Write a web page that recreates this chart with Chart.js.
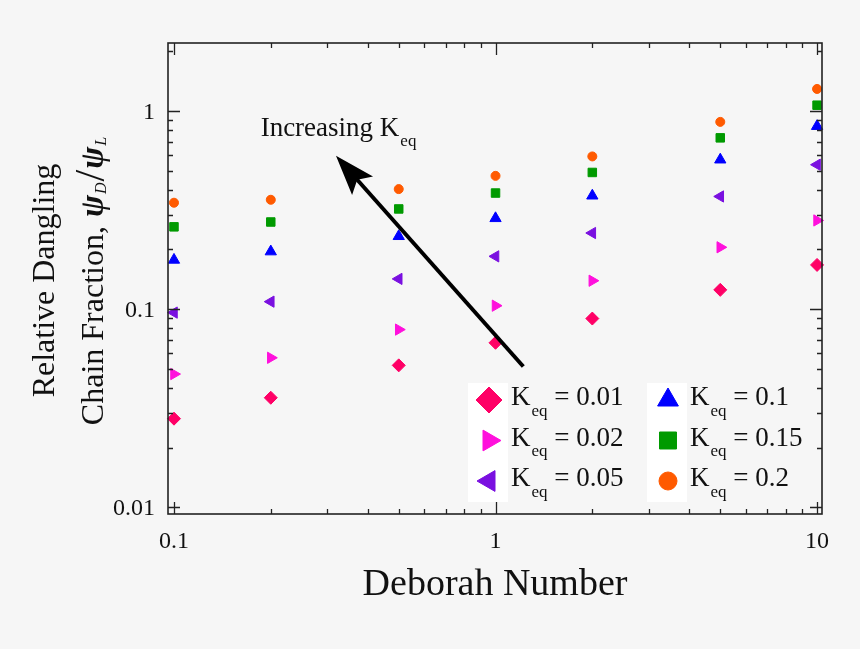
<!DOCTYPE html>
<html>
<head>
<meta charset="utf-8">
<script src="https://cdn.jsdelivr.net/npm/chart.js@4/dist/chart.umd.min.js"></script>
<style>
html, body { margin: 0; padding: 0; background: #f6f6f6; }
canvas { display: block; }
</style>
</head>
<body>
<canvas id="chart" width="860" height="649"></canvas>
<script>
'use strict';

// x: Deborah number, y: relative dangling chain fraction for each K_eq
const deborah = [0.1, 0.2, 0.5, 1, 2, 5, 10];
const keqLabels = ['0.01', '0.02', '0.05', '0.1', '0.15', '0.2'];
const keq001 = [0.028, 0.0357, 0.052, 0.0676, 0.0896, 0.125, 0.167];
const keq002 = [0.047, 0.0568, 0.0788, 0.104, 0.139, 0.205, 0.280];
const keq005 = [0.096, 0.109, 0.142, 0.1845, 0.242, 0.370, 0.535];
const keq01 = [0.177, 0.195, 0.233, 0.287, 0.373, 0.567, 0.837];
const keq015 = [0.26, 0.275, 0.32, 0.385, 0.489, 0.731, 1.068];
const keq02 = [0.344, 0.356, 0.403, 0.470, 0.589, 0.880, 1.29];

const xTickLabels = ['0.1', '1', '10'];
const yTickLabels = ['0.01', '0.1', '1'];

const serif = '"Liberation Serif", "Times New Roman", serif';
const ink = '#111';

const series = [keq001, keq002, keq005, keq01, keq015, keq02];
const colors = ['#ff0066', '#ff10dc', '#7a10e0', '#0000ff', '#009a00', '#ff5a00'];
const styles = ['rectRot', 'triangle', 'triangle', 'triangle', 'rect', 'circle'];
const rotations = [0, 90, -90, 0, 0, 0];
const radii = [6.5, 6.5, 6.5, 6.5, 6, 4.5];
const legendRadii = [13, 12, 12, 12, 12, 9];

// K with subscript eq, then optional tail text
function drawKeq(ctx, x, y, size, tail) {
    ctx.font = size + 'px ' + serif;
    ctx.fillText('K', x, y);
    let w = ctx.measureText('K').width + 1;
    const sub = Math.round(size * 0.64);
    ctx.font = sub + 'px ' + serif;
    ctx.fillText('eq', x + w, y + size * 0.39);
    w += ctx.measureText('eq').width;
    if (tail) {
        ctx.font = size + 'px ' + serif;
        ctx.fillText(tail, x + w, y);
    }
}

const background = {
    id: 'background',
    beforeDraw(chart) {
        const ctx = chart.ctx;
        ctx.save();
        ctx.fillStyle = '#f6f6f6';
        ctx.fillRect(0, 0, chart.width, chart.height);
        ctx.restore();
    }
};

// frame with inward ticks on all four sides, plus decade labels
const frameTicks = {
    id: 'frameTicks',
    afterDraw(chart) {
        const {ctx, chartArea: a, scales: {x, y}} = chart;
        ctx.save();
        ctx.strokeStyle = '#222';
        ctx.lineWidth = 1.6;
        ctx.strokeRect(a.left, a.top, a.right - a.left, a.bottom - a.top);
        ctx.lineWidth = 1.3;
        ctx.beginPath();
        for (let e = -3; e <= 1; e++) {
            for (let m = 1; m <= 9; m++) {
                const v = m * Math.pow(10, e);
                const len = m === 1 ? 12 : 5;
                if (v >= x.min && v <= x.max) {
                    const px = Math.round(x.getPixelForValue(v)) + 0.5;
                    ctx.moveTo(px, a.bottom); ctx.lineTo(px, a.bottom - len);
                    ctx.moveTo(px, a.top); ctx.lineTo(px, a.top + len);
                }
                if (v >= y.min && v <= y.max) {
                    const py = Math.round(y.getPixelForValue(v)) + 0.5;
                    ctx.moveTo(a.left, py); ctx.lineTo(a.left + len, py);
                    ctx.moveTo(a.right, py); ctx.lineTo(a.right - len, py);
                }
            }
        }
        ctx.stroke();

        ctx.fillStyle = ink;
        ctx.font = '24px ' + serif;
        ctx.textBaseline = 'alphabetic';
        ctx.textAlign = 'center';
        xTickLabels.forEach(t => {
            ctx.fillText(t, x.getPixelForValue(+t), a.bottom + 34);
        });
        ctx.textAlign = 'right';
        yTickLabels.forEach(t => {
            ctx.fillText(t, a.left - 13, y.getPixelForValue(+t) + 8);
        });
        ctx.restore();
    }
};

// axis titles
const titles = {
    id: 'titles',
    afterDraw(chart) {
        const {ctx, chartArea: a} = chart;
        ctx.save();
        ctx.fillStyle = ink;
        ctx.textBaseline = 'alphabetic';
        ctx.textAlign = 'center';
        ctx.font = '38px ' + serif;
        ctx.fillText('Deborah Number', (a.left + a.right) / 2, 595);

        const cy = (a.top + a.bottom) / 2 + 2;
        ctx.textAlign = 'left';
        // first line
        ctx.save();
        ctx.translate(54, cy);
        ctx.rotate(-Math.PI / 2);
        ctx.font = '32px ' + serif;
        const w1 = ctx.measureText('Relative Dangling').width;
        ctx.fillText('Relative Dangling', -w1 / 2, 0);
        ctx.restore();
        // second line with psi_D / psi_L
        const parts = [
            {t: 'Chain Fraction, ', f: '32px ' + serif, dy: 0},
            {t: 'ψ', f: 'italic bold 33px ' + serif, dy: 0},
            {t: 'D', f: 'italic 16px ' + serif, dy: 3},
            {t: '/', f: '42px ' + serif, dy: 1},
            {t: 'ψ', f: 'italic bold 33px ' + serif, dy: 0},
            {t: 'L', f: 'italic 16px ' + serif, dy: 3}
        ];
        let total = 0;
        parts.forEach(p => { ctx.font = p.f; p.w = ctx.measureText(p.t).width + 1; total += p.w; });
        ctx.save();
        ctx.translate(103, cy);
        ctx.rotate(-Math.PI / 2);
        let px = -total / 2;
        parts.forEach(p => { ctx.font = p.f; ctx.fillText(p.t, px, p.dy); px += p.w; });
        ctx.restore();
        ctx.restore();
    }
};

// arrow and "Increasing K_eq" note, placed in data coordinates
const arrowTail = [1.22, 0.0513];
const arrowTip = [0.319, 0.593];
const notePos = [0.186, 0.748];
const annotation = {
    id: 'annotation',
    afterDraw(chart) {
        const {ctx, scales: {x, y}} = chart;
        const x0 = x.getPixelForValue(arrowTail[0]), y0 = y.getPixelForValue(arrowTail[1]);
        const x1 = x.getPixelForValue(arrowTip[0]), y1 = y.getPixelForValue(arrowTip[1]);
        const len = Math.hypot(x1 - x0, y1 - y0);
        const ux = (x1 - x0) / len, uy = (y1 - y0) / len;
        const nx = -uy, ny = ux;
        const head = 40, half = 14;
        ctx.save();
        ctx.strokeStyle = '#000';
        ctx.fillStyle = '#000';
        ctx.lineWidth = 4;
        ctx.beginPath();
        ctx.moveTo(x0, y0);
        ctx.lineTo(x1 - ux * 30, y1 - uy * 30);
        ctx.stroke();
        ctx.beginPath();
        ctx.moveTo(x1, y1);
        ctx.lineTo(x1 - ux * head + nx * half, y1 - uy * head + ny * half);
        ctx.lineTo(x1 - ux * (head - 8), y1 - uy * (head - 8));
        ctx.lineTo(x1 - ux * head - nx * half, y1 - uy * head - ny * half);
        ctx.closePath();
        ctx.fill();

        ctx.fillStyle = ink;
        ctx.textBaseline = 'alphabetic';
        ctx.textAlign = 'left';
        const tx = x.getPixelForValue(notePos[0]), ty = y.getPixelForValue(notePos[1]);
        ctx.font = '27px ' + serif;
        ctx.fillText('Increasing', tx, ty);
        const w = ctx.measureText('Increasing ').width;
        drawKeq(ctx, tx + w, ty, 27, '');
        ctx.restore();
    }
};

// legend inside the plot, two columns of three
const keqLegend = {
    id: 'keqLegend',
    afterDraw(chart) {
        const {ctx, chartArea: a} = chart;
        const cols = [a.right - 333, a.right - 154];
        const rows = [a.bottom - 114, a.bottom - 73.5, a.bottom - 33];
        ctx.save();
        ctx.fillStyle = '#ffffff';
        cols.forEach(cx => ctx.fillRect(cx - 21, a.bottom - 131, 40, 119));
        chart.data.datasets.forEach((ds, i) => {
            const cx = cols[Math.floor(i / 3)];
            const cy = rows[i % 3];
            ctx.fillStyle = ds.backgroundColor;
            ctx.strokeStyle = ds.borderColor;
            ctx.lineWidth = 1;
            Chart.helpers.drawPoint(ctx, {
                pointStyle: ds.pointStyle,
                rotation: ds.rotation,
                radius: legendRadii[i],
                borderWidth: 1
            }, cx, cy);
            ctx.fillStyle = ink;
            ctx.textAlign = 'left';
            ctx.textBaseline = 'alphabetic';
            drawKeq(ctx, cx + 22, cy + 5, 27, ' = ' + keqLabels[i]);
        });
        ctx.restore();
    }
};

const datasets = series.map((vals, i) => ({
    label: 'K_eq = ' + keqLabels[i],
    data: deborah.map((d, j) => ({x: d, y: vals[j]})),
    pointStyle: styles[i],
    rotation: rotations[i],
    pointRadius: radii[i],
    borderWidth: 1,
    backgroundColor: colors[i],
    borderColor: colors[i],
    showLine: false,
    clip: false
}));

new Chart(document.getElementById('chart'), {
    type: 'scatter',
    data: {datasets},
    options: {
        responsive: false,
        animation: false,
        layout: {padding: {top: 43, right: 38, left: 0, bottom: 0}},
        plugins: {
            legend: {display: false},
            tooltip: {enabled: false}
        },
        scales: {
            x: {
                type: 'logarithmic',
                min: 0.0958,
                max: 10.36,
                grid: {display: false},
                border: {display: false},
                ticks: {display: false},
                afterFit(scale) { scale.height = 135; }
            },
            y: {
                type: 'logarithmic',
                min: 0.00925,
                max: 2.2,
                grid: {display: false},
                border: {display: false},
                ticks: {display: false},
                afterFit(scale) { scale.width = 168; }
            }
        }
    },
    plugins: [background, frameTicks, titles, annotation, keqLegend]
});
</script>
</body>
</html>
